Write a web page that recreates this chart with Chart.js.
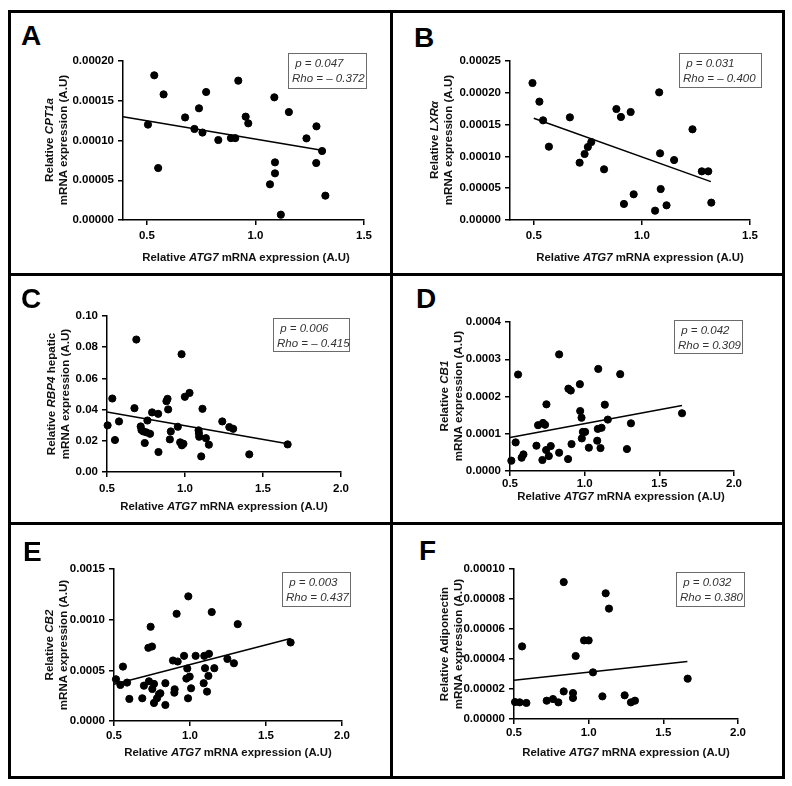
<!DOCTYPE html>
<html>
<head>
<meta charset="utf-8">
<script src="https://cdn.jsdelivr.net/npm/chart.js@4"></script>
<style>
  body { margin: 0; background: #fff; }
  #page { position: relative; width: 792px; height: 786px; overflow: hidden; background: #fff;
          font-family: "Liberation Sans", Arial, sans-serif; color: #000; }
  .rule { position: absolute; background: #000; }
  canvas { position: absolute; }
  .letter { position: absolute; font-weight: bold; font-size: 28px; line-height: 1; }
  .note { position: absolute; border: 1px solid #6b6b6b; font-style: italic; font-size: 11.5px;
          line-height: 15px; color: #333; white-space: pre; padding: 2px 0 0 3px; box-sizing: border-box; }
  .xtitle { position: absolute; width: 300px; text-align: center; font-size: 11.4px; font-weight: bold;
            line-height: 16px; white-space: nowrap; color: #111; }
  .ytitle { position: absolute; width: 200px; height: 28px; text-align: center; font-size: 11.6px; font-weight: bold;
            line-height: 14px; white-space: nowrap; color: #111; transform: rotate(-90deg); transform-origin: 50% 50%; }
</style>
</head>
<body>
<div id="page">
  <!-- frame -->
  <div class="rule" style="left:8px;top:10px;width:777px;height:3px"></div>
  <div class="rule" style="left:8px;top:776px;width:777px;height:3px"></div>
  <div class="rule" style="left:8px;top:10px;width:3px;height:769px"></div>
  <div class="rule" style="left:782px;top:10px;width:3px;height:769px"></div>
  <div class="rule" style="left:390px;top:10px;width:3px;height:769px"></div>
  <div class="rule" style="left:8px;top:273px;width:777px;height:3px"></div>
  <div class="rule" style="left:8px;top:522px;width:777px;height:3px"></div>

  <canvas id="chartA"></canvas>
  <canvas id="chartB"></canvas>
  <canvas id="chartC"></canvas>
  <canvas id="chartD"></canvas>
  <canvas id="chartE"></canvas>
  <canvas id="chartF"></canvas>

  <!-- panel letters -->
  <div class="letter" style="left:21px;top:22px">A</div>
  <div class="letter" style="left:414px;top:24px">B</div>
  <div class="letter" style="left:21px;top:285px">C</div>
  <div class="letter" style="left:416px;top:285px">D</div>
  <div class="letter" style="left:23px;top:538px">E</div>
  <div class="letter" style="left:419px;top:537px">F</div>

  <!-- stats boxes -->
  <div class="note" style="left:288px;top:53px;width:79px;height:36px"> p = 0.047
Rho = – 0.372</div>
  <div class="note" style="left:679px;top:53px;width:83px;height:35px"> p = 0.031
Rho = – 0.400</div>
  <div class="note" style="left:273px;top:318px;width:77px;height:34px"> p = 0.006
Rho = – 0.415</div>
  <div class="note" style="left:674px;top:320px;width:69px;height:34px"> p = 0.042
Rho = 0.309</div>
  <div class="note" style="left:282px;top:572px;width:69px;height:35px"> p = 0.003
Rho = 0.437</div>
  <div class="note" style="left:676px;top:572px;width:69px;height:35px"> p = 0.032
Rho = 0.380</div>

  <!-- x titles -->
  <div class="xtitle" style="left:96px;top:249px">Relative <i>ATG7</i> mRNA expression (A.U)</div>
  <div class="xtitle" style="left:490px;top:249px">Relative <i>ATG7</i> mRNA expression (A.U)</div>
  <div class="xtitle" style="left:74px;top:498px">Relative <i>ATG7</i> mRNA expression (A.U)</div>
  <div class="xtitle" style="left:471px;top:488px">Relative <i>ATG7</i> mRNA expression (A.U)</div>
  <div class="xtitle" style="left:78px;top:744px">Relative <i>ATG7</i> mRNA expression (A.U)</div>
  <div class="xtitle" style="left:476px;top:744px">Relative <i>ATG7</i> mRNA expression (A.U)</div>

  <!-- y titles (center at chart middle) -->
  <div class="ytitle" style="left:-44px;top:126px">Relative <i>CPT1a</i><br>mRNA expression (A.U)</div>
  <div class="ytitle" style="left:341px;top:126px">Relative <i>LXRα</i><br>mRNA expression (A.U)</div>
  <div class="ytitle" style="left:-42px;top:380px">Relative <i>RBP4</i> hepatic<br>mRNA expression (A.U)</div>
  <div class="ytitle" style="left:351px;top:382px">Relative <i>CB1</i><br>mRNA expression (A.U)</div>
  <div class="ytitle" style="left:-44px;top:631px">Relative <i>CB2</i><br>mRNA expression (A.U)</div>
  <div class="ytitle" style="left:351px;top:630px">Relative Adiponectin<br>mRNA expression (A.U)</div>
</div>

<script>
/* ---------- DATA ---------- */
// A: CPT1a vs ATG7
const atg7A = [0.505, 0.534, 0.552, 0.577, 0.676, 0.719, 0.740, 0.756, 0.773, 0.829, 0.887, 0.907, 0.921,
  0.955, 0.967, 1.067, 1.087, 1.090, 1.090, 1.117, 1.154, 1.235, 1.280, 1.281, 1.307, 1.322];
const cpt1a = [0.000120, 0.000182, 0.0000654, 0.000158, 0.000129, 0.0001145, 0.0001405, 0.000110, 0.000161,
  0.0001006, 0.000103, 0.000103, 0.0001753, 0.000130, 0.0001216, 0.0000449, 0.0001543, 0.0000725, 0.0000587,
  0.0000067, 0.0001358, 0.0001027, 0.0000717, 0.0001178, 0.0000868, 0.0000306];
const fitXA = [0.39, 1.319];
const fitYA = [0.000130, 0.0000872];

// B: LXRa vs ATG7
const atg7B = [0.494, 0.526, 0.543, 0.570, 0.667, 0.712, 0.735, 0.750, 0.766, 0.825, 0.882, 0.903, 0.917,
  0.948, 0.962, 1.061, 1.080, 1.084, 1.087, 1.114, 1.149, 1.234, 1.277, 1.307, 1.321];
const lxra = [0.0002154, 0.0001861, 0.0001567, 0.0001153, 0.0001614, 0.0000901, 0.0001038, 0.0001148,
  0.0001226, 0.0000797, 0.0001745, 0.000162, 0.0000252, 0.0001698, 0.0000404, 0.0000147, 0.0002007,
  0.0001048, 0.0000487, 0.0000231, 0.0000943, 0.0001426, 0.0000765, 0.0000765, 0.0000273];
const fitXB = [0.5, 1.319];
const fitYB = [0.00016, 0.0000603];

// C: RBP4 hepatic vs ATG7
const atg7C = [0.504, 0.534, 0.551, 0.577, 0.676, 0.688, 0.716, 0.721, 0.733, 0.742, 0.753, 0.759, 0.776,
  0.789, 0.828, 0.830, 0.881, 0.888, 0.892, 0.903, 0.909, 0.954, 0.969, 0.978, 0.980, 0.990, 0.999, 1.029,
  1.087, 1.089, 1.091, 1.104, 1.112, 1.134, 1.153, 1.239, 1.284, 1.309, 1.412, 1.658];
const rbp4 = [0.0299, 0.0471, 0.0205, 0.0324, 0.0409, 0.0849, 0.0292, 0.0269, 0.0260, 0.0186, 0.0254, 0.0330,
  0.0245, 0.0382, 0.0373, 0.0128, 0.0454, 0.0469, 0.0401, 0.0209, 0.0260, 0.0290, 0.0190, 0.0755, 0.0171,
  0.0181, 0.0482, 0.0507, 0.0267, 0.0249, 0.0226, 0.0100, 0.0405, 0.0217, 0.0175, 0.0324, 0.0288, 0.0277,
  0.0113, 0.0177];
const fitXC = [0.5, 1.658];
const fitYC = [0.0384, 0.0181];

// D: CB1 vs ATG7
const atg7D = [0.509, 0.538, 0.554, 0.578, 0.590, 0.677, 0.688, 0.717, 0.721, 0.735, 0.742, 0.744, 0.760,
  0.773, 0.829, 0.829, 0.889, 0.891, 0.907, 0.912, 0.968, 0.970, 0.979, 0.981, 0.988, 1.003, 1.028, 1.084,
  1.088, 1.091, 1.106, 1.113, 1.135, 1.155, 1.238, 1.283, 1.310, 1.652];
const cb1 = [0.0000277, 0.0000768, 0.000259, 0.0000357, 0.0000446, 0.0000679, 0.000123, 0.0000295, 0.000129,
  0.000124, 0.0000563, 0.000179, 0.0000402, 0.000067, 0.0000491, 0.000313, 0.0000321, 0.000221, 0.000216,
  0.0000723, 0.000233, 0.000161, 0.000143, 0.0000875, 0.000105, 0.000105, 0.0000625, 0.0000813, 0.000113,
  0.000274, 0.0000616, 0.000116, 0.000178, 0.000138, 0.00026, 0.0000589, 0.000128, 0.000155];
const fitXD = [0.5, 1.652];
const fitYD = [0.0000902, 0.000176];

// E: CB2 vs ATG7
const atg7E = [0.513, 0.542, 0.559, 0.586, 0.601, 0.686, 0.697, 0.726, 0.730, 0.741, 0.750, 0.752, 0.763,
  0.763, 0.783, 0.796, 0.805, 0.838, 0.838, 0.888, 0.897, 0.899, 0.912, 0.919, 0.961, 0.976, 0.982, 0.987,
  0.989, 0.998, 1.007, 1.037, 1.090, 1.094, 1.099, 1.112, 1.121, 1.125, 1.143, 1.160, 1.246, 1.289, 1.314,
  1.662];
const cb2 = [0.000412, 0.000356, 0.000537, 0.000379, 0.000218, 0.000224, 0.000349, 0.000722, 0.000392,
  0.00093, 0.000735, 0.000316, 0.000366, 0.000178, 0.000224, 0.000264, 0.000274, 0.000373, 0.000158,
  0.000597, 0.00028, 0.000313, 0.001058, 0.000587, 0.000643, 0.000419, 0.000518, 0.000224, 0.00123,
  0.000438, 0.000323, 0.000643, 0.000373, 0.000643, 0.000521, 0.00029, 0.000445, 0.000663, 0.001075,
  0.000521, 0.000613, 0.00057, 0.000956, 0.000775];
const fitXE = [0.5, 1.662];
const fitYE = [0.000363, 0.000814];

// F: Adiponectin vs ATG7
const atg7F = [0.507, 0.538, 0.554, 0.583, 0.719, 0.761, 0.797, 0.833, 0.833, 0.895, 0.895, 0.913, 0.969,
  1.000, 1.029, 1.092, 1.114, 1.136, 1.241, 1.283, 1.310, 1.663];
const adipo = [0.0000113, 0.0000111, 0.0000484, 0.0000107, 0.0000122, 0.0000133, 0.0000111, 0.0000913,
  0.0000184, 0.0000173, 0.000014, 0.000042, 0.0000524, 0.0000524, 0.0000311, 0.0000151, 0.0000838,
  0.0000736, 0.0000158, 0.0000111, 0.0000122, 0.0000269];
const fitXF = [0.5, 1.661];
const fitYF = [0.0000258, 0.0000384];

// tick values and labels
const xTicksShort = [0.5, 1.0, 1.5];
const xLabelsShort = ["0.5", "1.0", "1.5"];
const xTicksLong = [0.5, 1.0, 1.5, 2.0];
const xLabelsLong = ["0.5", "1.0", "1.5", "2.0"];
const yTicksA = [0, 0.00005, 0.0001, 0.00015, 0.0002];
const yLabelsA = ["0.00000", "0.00005", "0.00010", "0.00015", "0.00020"];
const yTicksB = [0, 0.00005, 0.0001, 0.00015, 0.0002, 0.00025];
const yLabelsB = ["0.00000", "0.00005", "0.00010", "0.00015", "0.00020", "0.00025"];
const yTicksC = [0, 0.02, 0.04, 0.06, 0.08, 0.1];
const yLabelsC = ["0.00", "0.02", "0.04", "0.06", "0.08", "0.10"];
const yTicksD = [0, 0.0001, 0.0002, 0.0003, 0.0004];
const yLabelsD = ["0.0000", "0.0001", "0.0002", "0.0003", "0.0004"];
const yTicksE = [0, 0.0005, 0.001, 0.0015];
const yLabelsE = ["0.0000", "0.0005", "0.0010", "0.0015"];
const yTicksF = [0, 0.00002, 0.00004, 0.00006, 0.00008, 0.0001];
const yLabelsF = ["0.00000", "0.00002", "0.00004", "0.00006", "0.00008", "0.00010"];

/* ---------- LAYOUT (chart area in page px) ---------- */
const panels = [
  { id: "chartA", xs: atg7A, ys: cpt1a, fx: fitXA, fy: fitYA, xMin: 0.39, xMax: 1.5, xt: xTicksShort, xl: xLabelsShort,
    yt: yTicksA, yl: yLabelsA, area: [123, 61, 364, 220], xPad: 4 },
  { id: "chartB", xs: atg7B, ys: lxra, fx: fitXB, fy: fitYB, xMin: 0.39, xMax: 1.5, xt: xTicksShort, xl: xLabelsShort,
    yt: yTicksB, yl: yLabelsB, area: [510, 61, 750, 220], xPad: 4 },
  { id: "chartC", xs: atg7C, ys: rbp4, fx: fitXC, fy: fitYC, xMin: 0.5, xMax: 2.0, xt: xTicksLong, xl: xLabelsLong,
    yt: yTicksC, yl: yLabelsC, area: [107, 316, 341, 472], xPad: 5 },
  { id: "chartD", xs: atg7D, ys: cb1, fx: fitXD, fy: fitYD, xMin: 0.5, xMax: 2.0, xt: xTicksLong, xl: xLabelsLong,
    yt: yTicksD, yl: yLabelsD, area: [510, 322, 734, 471], xPad: 1 },
  { id: "chartE", xs: atg7E, ys: cb2, fx: fitXE, fy: fitYE, xMin: 0.5, xMax: 2.0, xt: xTicksLong, xl: xLabelsLong,
    yt: yTicksE, yl: yLabelsE, area: [114, 569, 342, 721], xPad: 3 },
  { id: "chartF", xs: atg7F, ys: adipo, fx: fitXF, fy: fitYF, xMin: 0.5, xMax: 2.0, xt: xTicksLong, xl: xLabelsLong,
    yt: yTicksF, yl: yLabelsF, area: [514, 569, 738, 719], xPad: 2 }
];

const tickFont = { family: "'Liberation Sans', Arial, sans-serif", size: 11.5, weight: "bold" };

function makePanel(p) {
  const [L, T, R, B] = p.area;
  const cx = L - 70, cy = T - 12;
  const cw = R + 14 - cx, ch = B + 34 - cy;
  const canvas = document.getElementById(p.id);
  canvas.style.left = cx + "px";
  canvas.style.top = cy + "px";
  canvas.width = cw;
  canvas.height = ch;
  canvas.style.width = cw + "px";
  canvas.style.height = ch + "px";

  const points = p.xs.map((x, i) => ({ x: x, y: p.ys[i] }));
  const fit = p.fx.map((x, i) => ({ x: x, y: p.fy[i] }));

  new Chart(canvas.getContext("2d"), {
    type: "scatter",
    data: {
      datasets: [
        { data: points, backgroundColor: "#000", borderColor: "#000", pointRadius: 3.6,
          pointHoverRadius: 3.6, clip: false },
        { type: "line", data: fit, borderColor: "#000", borderWidth: 1.5, pointRadius: 0,
          showLine: true, fill: false, clip: false }
      ]
    },
    options: {
      responsive: false,
      animation: false,
      events: [],
      layout: { padding: { left: 10, top: 12, right: 14, bottom: 4 } },
      plugins: { legend: { display: false }, tooltip: { enabled: false } },
      scales: {
        x: {
          type: "linear",
          min: p.xMin,
          max: p.xMax,
          afterBuildTicks: axis => { axis.ticks = p.xt.map(v => ({ value: v })); },
          afterFit: axis => { axis.height = 30; },
          ticks: { callback: (v, i) => p.xl[i], font: tickFont, color: "#000", padding: p.xPad,
                   maxRotation: 0, autoSkip: false },
          grid: { drawOnChartArea: false, drawTicks: true, tickLength: 5, color: "#000", lineWidth: 1.5 },
          border: { display: true, color: "#000", width: 1.5 }
        },
        y: {
          type: "linear",
          min: p.yt[0],
          max: p.yt[p.yt.length - 1],
          afterBuildTicks: axis => { axis.ticks = p.yt.map(v => ({ value: v })); },
          afterFit: axis => { axis.width = 60; },
          ticks: { callback: (v, i) => p.yl[i], font: tickFont, color: "#000", padding: 4, autoSkip: false },
          grid: { drawOnChartArea: false, drawTicks: true, tickLength: 5, color: "#000", lineWidth: 1.5 },
          border: { display: true, color: "#000", width: 1.5 }
        }
      }
    }
  });
}

panels.forEach(makePanel);
</script>
</body>
</html>
